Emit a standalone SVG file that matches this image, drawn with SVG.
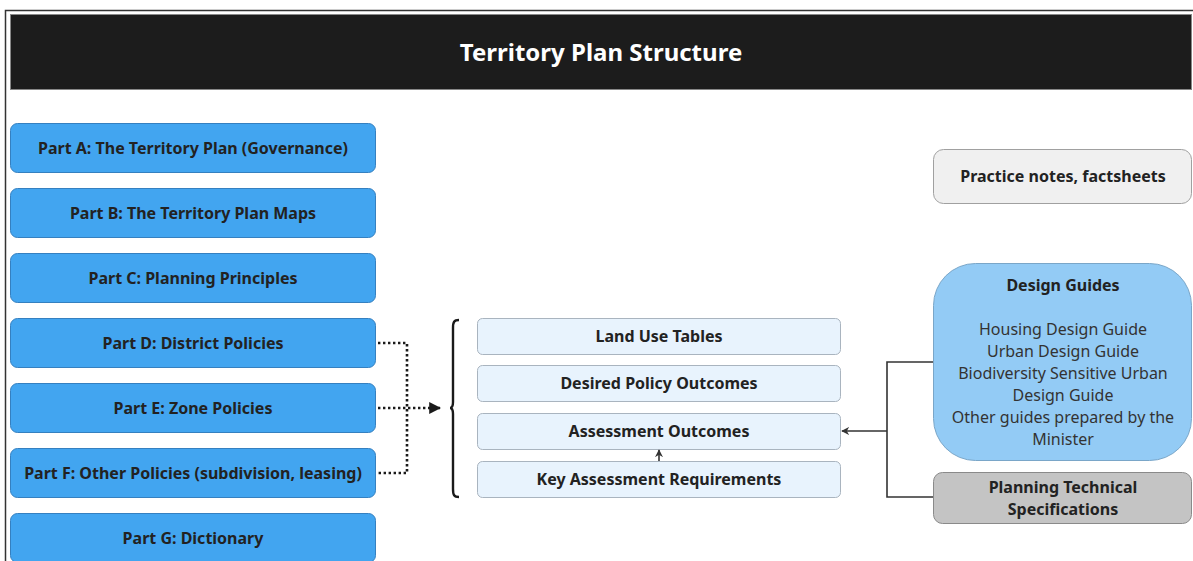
<svg xmlns="http://www.w3.org/2000/svg" width="1193" height="561" viewBox="0 0 1193 561">
<style>
text{font-family:"Noto Sans","Open Sans","Liberation Sans",sans-serif;fill:#222;}
.b{font-weight:bold;font-size:16px;text-anchor:middle;}
.r{font-size:16px;text-anchor:middle;fill:#333;}
.part{fill:#42A5F0;stroke:#3580c0;stroke-width:1;}
.mid{fill:#E8F3FD;stroke:#a9b4bf;stroke-width:1;}
.dot{fill:none;stroke:#1a1a1a;stroke-width:2.6;stroke-dasharray:2.4 2.6;}
.ln{fill:none;stroke:#333;stroke-width:1.6;}
</style>
<defs>
<marker id="ah" viewBox="0 0 10 10" refX="9" refY="5" markerWidth="12" markerHeight="12" markerUnits="userSpaceOnUse" orient="auto"><path d="M0,0 L10,5 L0,10 z" fill="#1a1a1a"/></marker>
<marker id="as" viewBox="0 0 10 10" refX="9" refY="5" markerWidth="8" markerHeight="8" markerUnits="userSpaceOnUse" orient="auto"><path d="M0,0 L10,5 L0,10 L3,5 z" fill="#333"/></marker>
</defs>
<rect x="0" y="0" width="1193" height="561" fill="#fff"/>
<path d="M5.5,561 V10.5 H1193" fill="none" stroke="#333" stroke-width="1.5"/>
<g id="header">
<rect x="10.5" y="14.5" width="1181" height="75" fill="#1c1c1c" stroke="#888" stroke-width="1"/>
<text x="601" y="61" style="font-weight:bold;font-size:24px;fill:#fff;text-anchor:middle;">Territory Plan Structure</text>
</g>
<g id="partA"><rect class="part" x="10.5" y="123.5" width="365" height="49" rx="7"/><text class="b" x="193" y="154">Part A: The Territory Plan (Governance)</text></g>
<g id="partB"><rect class="part" x="10.5" y="188.5" width="365" height="49" rx="7"/><text class="b" x="193" y="219">Part B: The Territory Plan Maps</text></g>
<g id="partC"><rect class="part" x="10.5" y="253.5" width="365" height="49" rx="7"/><text class="b" x="193" y="284">Part C: Planning Principles</text></g>
<g id="partD"><rect class="part" x="10.5" y="318.5" width="365" height="49" rx="7"/><text class="b" x="193" y="349">Part D: District Policies</text></g>
<g id="partE"><rect class="part" x="10.5" y="383.5" width="365" height="49" rx="7"/><text class="b" x="193" y="414">Part E: Zone Policies</text></g>
<g id="partF"><rect class="part" x="10.5" y="448.5" width="365" height="49" rx="7"/><text class="b" x="193" y="479">Part F: Other Policies (subdivision, leasing)</text></g>
<g id="partG"><rect class="part" x="10.5" y="513.5" width="365" height="49" rx="7"/><text class="b" x="193" y="544">Part G: Dictionary</text></g>
<g id="brace"><path d="M459,320 C454,320 453,322 453,328 V402 C453,406 452,408 450,408 C452,408 453,410 453,414 V489 C453,495 454,497 459,497" fill="none" stroke="#1a1a1a" stroke-width="2.4"/></g>
<g id="landuse"><rect class="mid" x="477.5" y="318.5" width="363" height="36" rx="5"/><text class="b" x="659" y="342">Land Use Tables</text></g>
<g id="desired"><rect class="mid" x="477.5" y="365.5" width="363" height="36" rx="5"/><text class="b" x="659" y="389">Desired Policy Outcomes</text></g>
<g id="assessment"><rect class="mid" x="477.5" y="413.5" width="363" height="36" rx="5"/><text class="b" x="659" y="437">Assessment Outcomes</text></g>
<g id="key"><rect class="mid" x="477.5" y="461.5" width="363" height="36" rx="5"/><text class="b" x="659" y="485">Key Assessment Requirements</text></g>
<g id="practice"><rect x="933.5" y="149.5" width="258" height="54" rx="10" fill="#F0F0F0" stroke="#a0a0a0"/><text class="b" x="1063" y="182">Practice notes, factsheets</text></g>
<g id="design"><rect x="933.5" y="263.5" width="258" height="197" rx="42" fill="#93CBF5" stroke="#7aa6c8"/>
<text class="b" x="1063" y="291">Design Guides</text>
<text class="r" x="1063" y="335">Housing Design Guide</text>
<text class="r" x="1063" y="357">Urban Design Guide</text>
<text class="r" x="1063" y="379">Biodiversity Sensitive Urban</text>
<text class="r" x="1063" y="401">Design Guide</text>
<text class="r" x="1063" y="423">Other guides prepared by the</text>
<text class="r" x="1063" y="445">Minister</text>
</g>
<g id="technical"><rect x="933.5" y="472.5" width="258" height="51" rx="9" fill="#C4C4C4" stroke="#8a8a8a"/><text class="b" x="1063" y="493">Planning Technical</text><text class="b" x="1063" y="515">Specifications</text></g>
<g id="connectors">
<path class="dot" d="M378,343 H407 V473 H378"/>
<path class="dot" d="M378,408 H440" marker-end="url(#ah)"/>
<path class="ln" d="M933,362 H887 V497 H933"/>
<path class="ln" d="M887,431 H842" marker-end="url(#as)"/>
<path class="ln" d="M659,461 V450" marker-end="url(#as)"/>
</g>
</svg>
